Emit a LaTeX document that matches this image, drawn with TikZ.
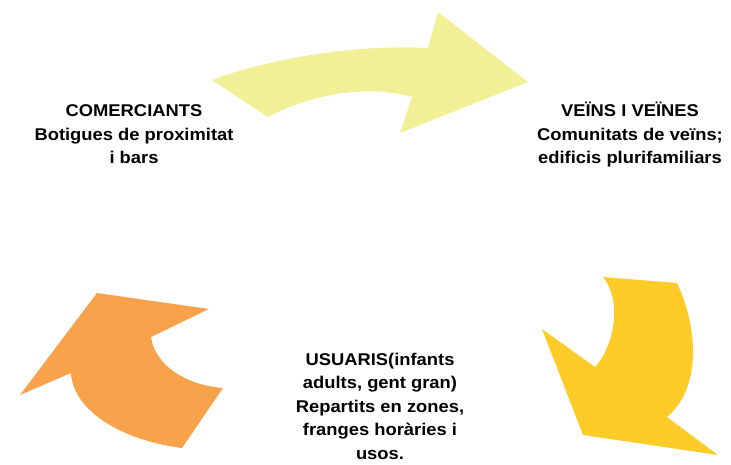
\documentclass[tikz,border=0pt]{standalone}
\usepackage{fontspec}
\setmainfont{Liberation Sans}[FakeStretch=1.08]
\definecolor{arrowyellow}{RGB}{242,240,150}
\definecolor{arrowgold}{RGB}{254,204,40}
\definecolor{arroworange}{RGB}{248,162,75}
\begin{document}
\begin{tikzpicture}[x=1pt,y=-1pt,
  lbl/.style={align=center,anchor=base,inner sep=0pt,font=\bfseries\fontsize{17}{23.5}\selectfont}]
\useasboundingbox (0,0) rectangle (731,465);
% arrows
\fill[arrowyellow] (212,80) .. controls (270,58) and (360,44) .. (428,48)
  -- (438,12) -- (528,82) -- (400,133) -- (412,97)
  .. controls (375,86) and (320,90) .. (268,117) -- cycle;
\fill[arrowgold] (603,277) -- (677,283) .. controls (695,320) and (705,385) .. (667,417)
  -- (718,455) -- (583,435) -- (542,329) -- (595,367)
  .. controls (615,345) and (622,300) .. (603,277) -- cycle;
\fill[arroworange] (97,293) -- (209,309) -- (151,337)
  .. controls (155,365) and (185,385) .. (223,388) -- (182,448)
  .. controls (120,440) and (73,410) .. (71,373) -- (20,395) -- cycle;
% labels (anchor base = baseline of the last line)
\node[lbl] (com) at (134,164) {COMERCIANTS\\Botigues de proximitat\\i bars};
\node[lbl] (vei) at (630,164) {VEÏNS I VEÏNES\\Comunitats de veïns;\\edificis plurifamiliars};
\node[lbl] (usu) at (380,459) {USUARIS(infants\\adults, gent gran)\\Repartits en zones,\\franges horàries i\\usos.};
\end{tikzpicture}
\end{document}
